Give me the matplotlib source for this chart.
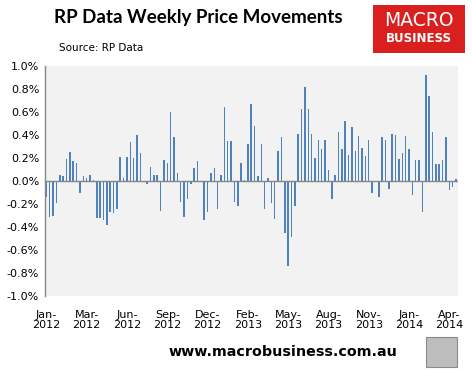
import matplotlib
matplotlib.use("Agg")
import matplotlib.pyplot as plt
from matplotlib.patches import Rectangle
import numpy as np

values = [
    -0.14, -0.31, -0.30, -0.19, 0.05, 0.04, 0.19, 0.25, 0.17, 0.16,
    -0.10, 0.04, 0.03, 0.05, 0.01, -0.32, -0.32, -0.34, -0.38, -0.27,
    -0.28, -0.24, 0.21, 0.03, 0.21, 0.34, 0.20, 0.40, 0.24, 0.0,
    -0.03, 0.12, 0.05, 0.05, -0.26, 0.18, 0.16, 0.60, 0.38, 0.07,
    -0.18, -0.31, -0.16, -0.03, 0.11, 0.17, 0.0, -0.34, -0.27, 0.07,
    0.11, -0.24, 0.05, 0.64, 0.35, 0.35, -0.18, -0.22, 0.16, 0.01,
    0.32, 0.67, 0.48, 0.04, 0.32, -0.24, 0.03, -0.19, -0.33, 0.26,
    0.38, -0.45, -0.74, -0.49, -0.22, 0.41, 0.63, 0.82, 0.63, 0.41,
    0.20, 0.36, 0.28, 0.36, 0.10, -0.16, 0.05, 0.43, 0.28, 0.52,
    0.23, 0.47, 0.26, 0.39, 0.29, 0.22, 0.36, -0.10, 0.0, -0.14,
    0.38, 0.36, -0.07, 0.41, 0.40, 0.19, 0.24, 0.39, 0.28, -0.12,
    0.18, 0.18, -0.27, 0.92, 0.74, 0.43, 0.15, 0.15, 0.18, 0.38,
    -0.08, -0.05, 0.02,
]
tick_labels = ["Jan-\n2012", "Mar-\n2012", "Jun-\n2012", "Sep-\n2012", "Dec-\n2012",
               "Feb-\n2013", "May-\n2013", "Aug-\n2013", "Nov-\n2013", "Jan-\n2014",
               "Apr-\n2014"]
y_ticks = [-1.0, -0.8, -0.6, -0.4, -0.2, 0.0, 0.2, 0.4, 0.6, 0.8, 1.0]

W, H = 472, 373
fig = plt.figure(figsize=(W / 100, H / 100), dpi=100)
fig.patch.set_facecolor("white")

left, right, top, bottom = 44.7, 457.7, 66, 296
ax = fig.add_axes([left / W, 1 - bottom / H, (right - left) / W, (bottom - top) / H])
ax.set_facecolor("#F2F2F2")

x = np.arange(len(values))
ax.bar(x, values, width=0.45, color="#4F81BD", zorder=2)
ax.axhline(0, color="#868686", lw=1.0, zorder=3)

ax.set_xlim(-0.5, len(values) - 0.5)
ax.set_ylim(-1.0, 1.0)
ax.set_yticks(y_ticks)
ax.set_yticklabels([f"{v:.1f}%" for v in y_ticks], fontsize=8)
ax.set_xticks(np.arange(0, len(values), 12)[:len(tick_labels)])
ax.set_xticklabels(tick_labels, fontsize=8, linespacing=1.0)
ax.tick_params(axis="both", length=0, pad=4)
ax.tick_params(axis="x", pad=10)

for s in ["top", "right", "bottom"]:
    ax.spines[s].set_visible(False)
ax.spines["left"].set_color("#868686")
ax.spines["left"].set_linewidth(1.0)

# Title and source
fig.text(198 / W, 1 - 18 / H, "RP Data Weekly Price Movements", ha="center", va="center",
         fontsize=13.5, fontweight="bold", family="Lato")
fig.text(59 / W, 1 - 48 / H, "Source: RP Data", ha="left", va="center", fontsize=7.5)

# Logo box
fig.patches.append(Rectangle((373 / W, 1 - 53 / H), 92 / W, 48 / H, transform=fig.transFigure,
                             facecolor="#D9201F", edgecolor="none"))
fig.text(419 / W, 1 - 21 / H, "MACRO", ha="center", va="center", color="white",
         fontsize=13.5, family="DejaVu Sans")
fig.text(419 / W, 1 - 39 / H, "BUSINESS", ha="center", va="center", color="white",
         fontsize=8.5, fontweight="bold", family="DejaVu Sans")

# Footer
fig.text(283 / W, 1 - 352 / H, "www.macrobusiness.com.au", ha="center", va="center",
         fontsize=10.3, fontweight="bold", family="DejaVu Sans")
fig.patches.append(Rectangle((426 / W, 1 - 367 / H), 31 / W, 30 / H, transform=fig.transFigure,
                             facecolor="#BDBDBD", edgecolor="#8A8A8A", lw=0.8))

fig.savefig("out.png", dpi=100)
